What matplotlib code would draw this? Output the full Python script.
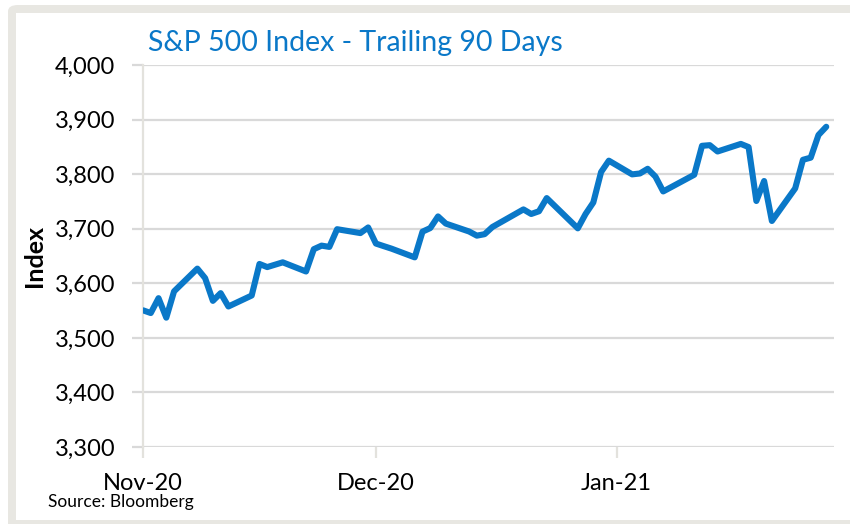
import matplotlib
matplotlib.use("Agg")
import matplotlib.pyplot as plt
import matplotlib.dates as mdates
from matplotlib.patches import FancyBboxPatch, Rectangle
import numpy as np
import datetime as dt

# ---- data ----
dates = ["2020-11-09", "2020-11-10", "2020-11-11", "2020-11-12", "2020-11-13",
         "2020-11-16", "2020-11-17", "2020-11-18", "2020-11-19", "2020-11-20",
         "2020-11-23", "2020-11-24", "2020-11-25", "2020-11-27", "2020-11-30",
         "2020-12-01", "2020-12-02", "2020-12-03", "2020-12-04", "2020-12-07",
         "2020-12-08", "2020-12-09", "2020-12-10", "2020-12-11", "2020-12-14",
         "2020-12-15", "2020-12-16", "2020-12-17", "2020-12-18", "2020-12-21",
         "2020-12-22", "2020-12-23", "2020-12-24", "2020-12-28", "2020-12-29",
         "2020-12-30", "2020-12-31", "2021-01-04", "2021-01-05", "2021-01-06",
         "2021-01-07", "2021-01-08", "2021-01-11", "2021-01-12", "2021-01-13",
         "2021-01-14", "2021-01-15", "2021-01-19", "2021-01-20", "2021-01-21",
         "2021-01-22", "2021-01-25", "2021-01-26", "2021-01-27", "2021-01-28",
         "2021-01-29", "2021-02-01", "2021-02-02", "2021-02-03", "2021-02-04",
         "2021-02-05"]
spx = [3550.5, 3545.5, 3572.7, 3537.0, 3585.2,
       3626.9, 3609.5, 3567.8, 3581.9, 3557.5,
       3577.6, 3635.4, 3629.7, 3638.4, 3621.6,
       3662.5, 3669.0, 3666.7, 3699.1, 3692.0,
       3702.3, 3672.8, 3668.1, 3663.5, 3647.5,
       3694.6, 3701.2, 3722.5, 3709.4, 3694.9,
       3687.3, 3690.0, 3703.1, 3735.4, 3727.0,
       3732.0, 3756.1, 3700.7, 3726.9, 3748.1,
       3803.8, 3824.7, 3799.6, 3801.2, 3809.8,
       3795.5, 3768.3, 3798.9, 3851.9, 3853.1,
       3841.5, 3855.4, 3849.6, 3750.8, 3787.4,
       3714.2, 3773.9, 3826.3, 3830.2, 3871.7,
       3886.8]
tick_dates = ["2020-11-09", "2020-12-09", "2021-01-09"]
tick_labels = ["Nov-20", "Dec-20", "Jan-21"]
y_ticks = [3300, 3400, 3500, 3600, 3700, 3800, 3900, 4000]

title = "S&P 500 Index - Trailing 90 Days"
ylabel = "Index"
source = "Source: Bloomberg"

# ---- figure ----
plt.rcParams['font.family'] = ['Lato', 'DejaVu Sans']
W, H = 850, 524
fig = plt.figure(figsize=(W / 100, H / 100), dpi=100)
fig.patch.set_facecolor("white")

# frame
gray = "#E8E7E2"
outer = FancyBboxPatch((8 / W, -20 / H), 900 / W, (H - 5 + 20) / H,
                       boxstyle="round,pad=0,rounding_size=0.012",
                       transform=fig.transFigure, facecolor=gray, edgecolor="none", zorder=-3)
fig.patches.append(outer)
inner = Rectangle((16 / W, (H - 520) / H), 900 / W, (520 - 13) / H,
                  transform=fig.transFigure, facecolor="white", edgecolor="none", zorder=-2)
fig.patches.append(inner)

ax = fig.add_axes([143 / W, (H - 447) / H, (834 - 143) / W, (447 - 65) / H])
ax.set_facecolor("none")
ax.set_zorder(1)

x = mdates.date2num([dt.date.fromisoformat(d) for d in dates])
line_color = "#0A78C8"
ax.plot(x, spx, color=line_color, lw=4.4, solid_joinstyle="round",
        solid_capstyle="round", zorder=3)

ax.set_xlim(mdates.date2num(dt.date(2020, 11, 9)), mdates.date2num(dt.date(2021, 2, 6)))
ax.set_ylim(3300, 4000)
ax.set_yticks(y_ticks)
ax.set_yticklabels([f"{v:,}" for v in y_ticks])
ax.set_xticks(mdates.date2num([dt.date.fromisoformat(d) for d in tick_dates]))
ax.set_xticklabels(tick_labels)

grid_c = "#D9D9D9"
ax.grid(axis="y", color=grid_c, lw=1.6, zorder=0)
for s in ["top", "right", "bottom"]:
    ax.spines[s].set_visible(False)
ax.spines["left"].set_color("#E3E2DD")
ax.spines["left"].set_linewidth(1.6)
ax.tick_params(axis="y", length=8, width=1.6, color=grid_c, pad=12,
               labelsize=17, labelcolor="black")
ax.tick_params(axis="x", length=8, width=1.6, color="#E3E2DD", pad=11,
               labelsize=17, labelcolor="black")

fig.text(35 / W, 1 - 256 / H, ylabel, fontsize=18, fontweight="bold",
         rotation=90, ha="center", va="center")

fig.text(148 / W, 1 - 43 / H, title, color=line_color, fontsize=20.5,
         ha="left", va="center")
fig.text(48 / W, 1 - 502 / H, source, fontsize=12.5, ha="left", va="center")

fig.savefig("out.png", dpi=100)
